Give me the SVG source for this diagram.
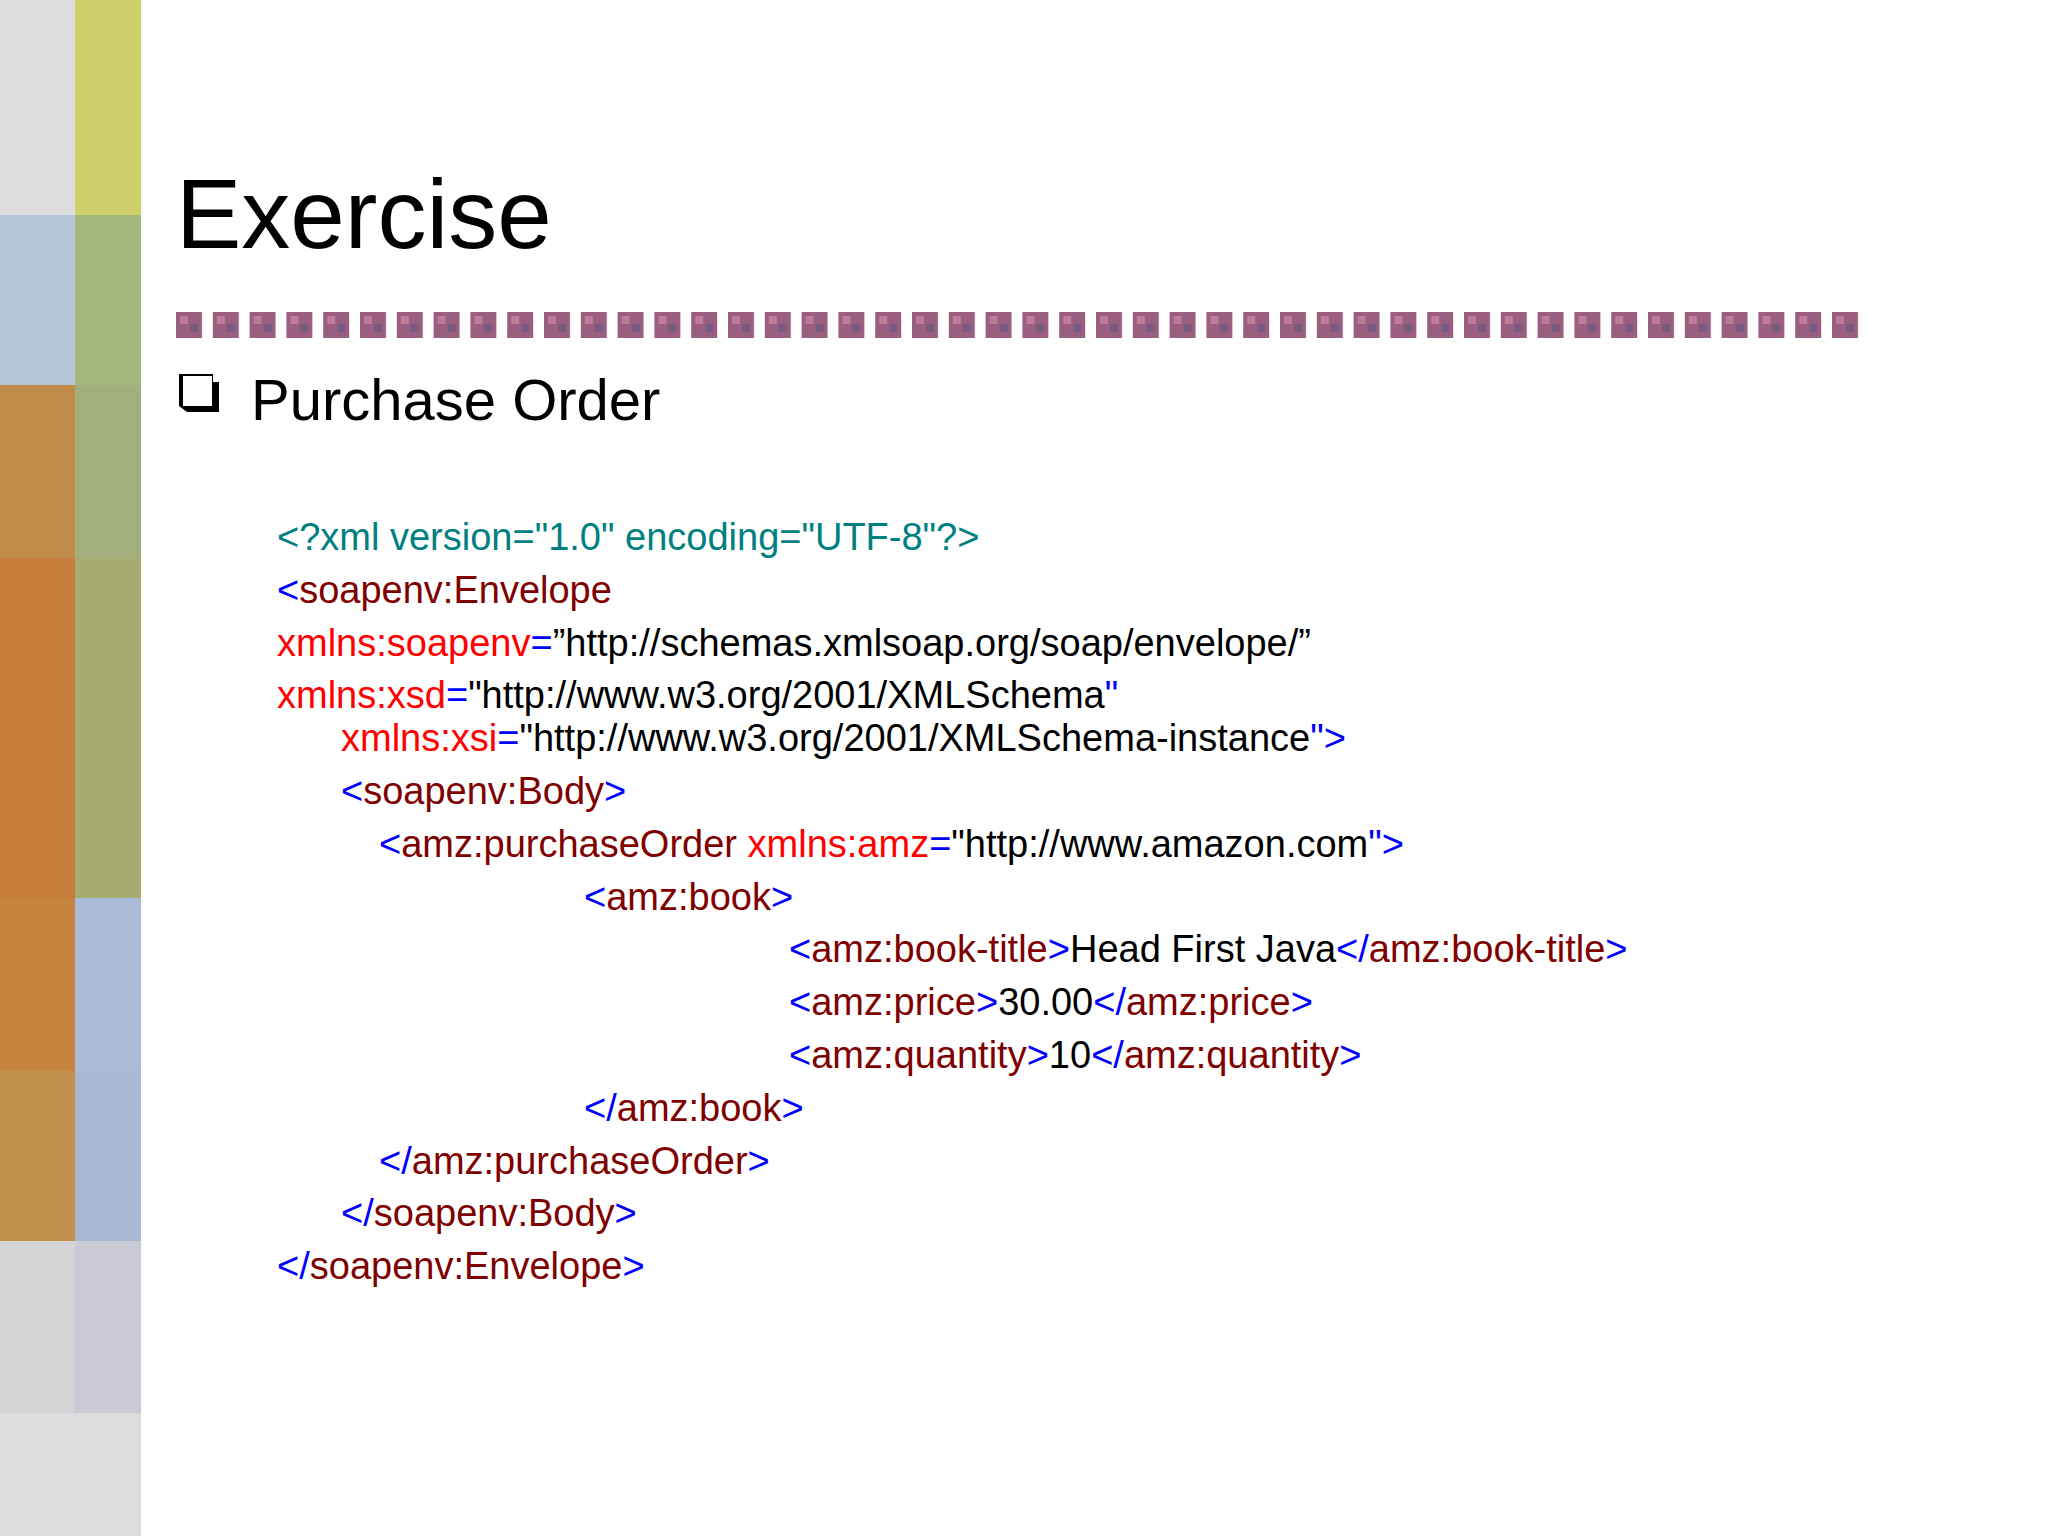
<svg xmlns="http://www.w3.org/2000/svg" width="2048" height="1536" viewBox="0 0 2048 1536">
<style>
text{font-family:"Liberation Sans",Arial,sans-serif}
.c{font-size:38px}
.t{fill:#008080}.b{fill:#0000ff}.r{fill:#800000}.a{fill:#ff0000}.k{fill:#000}
</style>
<defs>
<pattern id="sq" x="176" y="312" width="36.8" height="26" patternUnits="userSpaceOnUse">
<rect width="26" height="26" fill="#9a5f7e"/>
<rect x="4" y="4" width="8" height="8" fill="#c07a9a"/><rect x="14" y="12" width="8" height="8" fill="#7a5a80"/>
</pattern>
</defs>
<rect width="2048" height="1536" fill="#fff"/>
<g id="strip">
<rect x="0" y="0" width="75" height="215" fill="#dcdcdc"/>
<rect x="0" y="215" width="75" height="170" fill="#b4c6d8"/>
<rect x="0" y="385" width="75" height="173" fill="#c08c4a"/>
<rect x="0" y="558" width="75" height="340" fill="#c87f3c"/>
<rect x="0" y="898" width="75" height="173" fill="#c6843e"/>
<rect x="0" y="1071" width="75" height="170" fill="#c0904c"/>
<rect x="0" y="1241" width="75" height="172" fill="#d4d4d6"/>
<rect x="0" y="1413" width="75" height="123" fill="#dcdcdc"/>
<rect x="75" y="0" width="66" height="215" fill="#cfd06a"/>
<rect x="75" y="215" width="66" height="170" fill="#a4b87c"/>
<rect x="75" y="385" width="66" height="173" fill="#a2ae7c"/>
<rect x="75" y="558" width="66" height="340" fill="#a6ac72"/>
<rect x="75" y="898" width="66" height="173" fill="#aabcd8"/>
<rect x="75" y="1071" width="66" height="170" fill="#a8b8d0"/>
<rect x="75" y="1241" width="66" height="172" fill="#cacad4"/>
<rect x="75" y="1413" width="66" height="123" fill="#dcdcdc"/>
</g>
<text x="176" y="248" font-size="98" fill="#000">Exercise</text>
<rect x="176" y="312" width="1692" height="26" fill="url(#sq)"/>
<g id="bullet">
<path d="M179 374 h34 v8 h6 v30 h-32 l-8 -6 z" fill="#000"/>
<rect x="183" y="376" width="29" height="30" fill="#fff"/>
</g>
<text x="251" y="420" font-size="58" fill="#000">Purchase Order</text>
<g class="c">
<text x="277" y="550" class="t">&lt;?xml version="1.0" encoding="UTF-8"?&gt;</text>
<text x="277" y="603"><tspan class="b">&lt;</tspan><tspan class="r">soapenv:Envelope</tspan></text>
<text x="277" y="656"><tspan class="a">xmlns:soapenv</tspan><tspan class="b">=</tspan><tspan class="k">”http://schemas.xmlsoap.org/soap/envelope/”</tspan></text>
<text x="277" y="708"><tspan class="a">xmlns:xsd</tspan><tspan class="b">=</tspan><tspan class="k">"http://www.w3.org/2001/XMLSchema</tspan><tspan class="b">"</tspan></text>
<text x="341" y="751"><tspan class="a">xmlns:xsi</tspan><tspan class="b">=</tspan><tspan class="k">"http://www.w3.org/2001/XMLSchema-instance</tspan><tspan class="b">"&gt;</tspan></text>
<text x="341" y="804"><tspan class="b">&lt;</tspan><tspan class="r">soapenv:Body</tspan><tspan class="b">&gt;</tspan></text>
<text x="379" y="857"><tspan class="b">&lt;</tspan><tspan class="r">amz:purchaseOrder </tspan><tspan class="a">xmlns:amz</tspan><tspan class="b">=</tspan><tspan class="k">"http://www.amazon.com</tspan><tspan class="b">"&gt;</tspan></text>
<text x="584" y="910"><tspan class="b">&lt;</tspan><tspan class="r">amz:book</tspan><tspan class="b">&gt;</tspan></text>
<text x="789" y="962"><tspan class="b">&lt;</tspan><tspan class="r">amz:book-title</tspan><tspan class="b">&gt;</tspan><tspan class="k">Head First Java</tspan><tspan class="b">&lt;/</tspan><tspan class="r">amz:book-title</tspan><tspan class="b">&gt;</tspan></text>
<text x="789" y="1015"><tspan class="b">&lt;</tspan><tspan class="r">amz:price</tspan><tspan class="b">&gt;</tspan><tspan class="k">30.00</tspan><tspan class="b">&lt;/</tspan><tspan class="r">amz:price</tspan><tspan class="b">&gt;</tspan></text>
<text x="789" y="1068"><tspan class="b">&lt;</tspan><tspan class="r">amz:quantity</tspan><tspan class="b">&gt;</tspan><tspan class="k">10</tspan><tspan class="b">&lt;/</tspan><tspan class="r">amz:quantity</tspan><tspan class="b">&gt;</tspan></text>
<text x="584" y="1121"><tspan class="b">&lt;/</tspan><tspan class="r">amz:book</tspan><tspan class="b">&gt;</tspan></text>
<text x="379" y="1174"><tspan class="b">&lt;/</tspan><tspan class="r">amz:purchaseOrder</tspan><tspan class="b">&gt;</tspan></text>
<text x="341" y="1226"><tspan class="b">&lt;/</tspan><tspan class="r">soapenv:Body</tspan><tspan class="b">&gt;</tspan></text>
<text x="277" y="1279"><tspan class="b">&lt;/</tspan><tspan class="r">soapenv:Envelope</tspan><tspan class="b">&gt;</tspan></text>
</g>
</svg>
